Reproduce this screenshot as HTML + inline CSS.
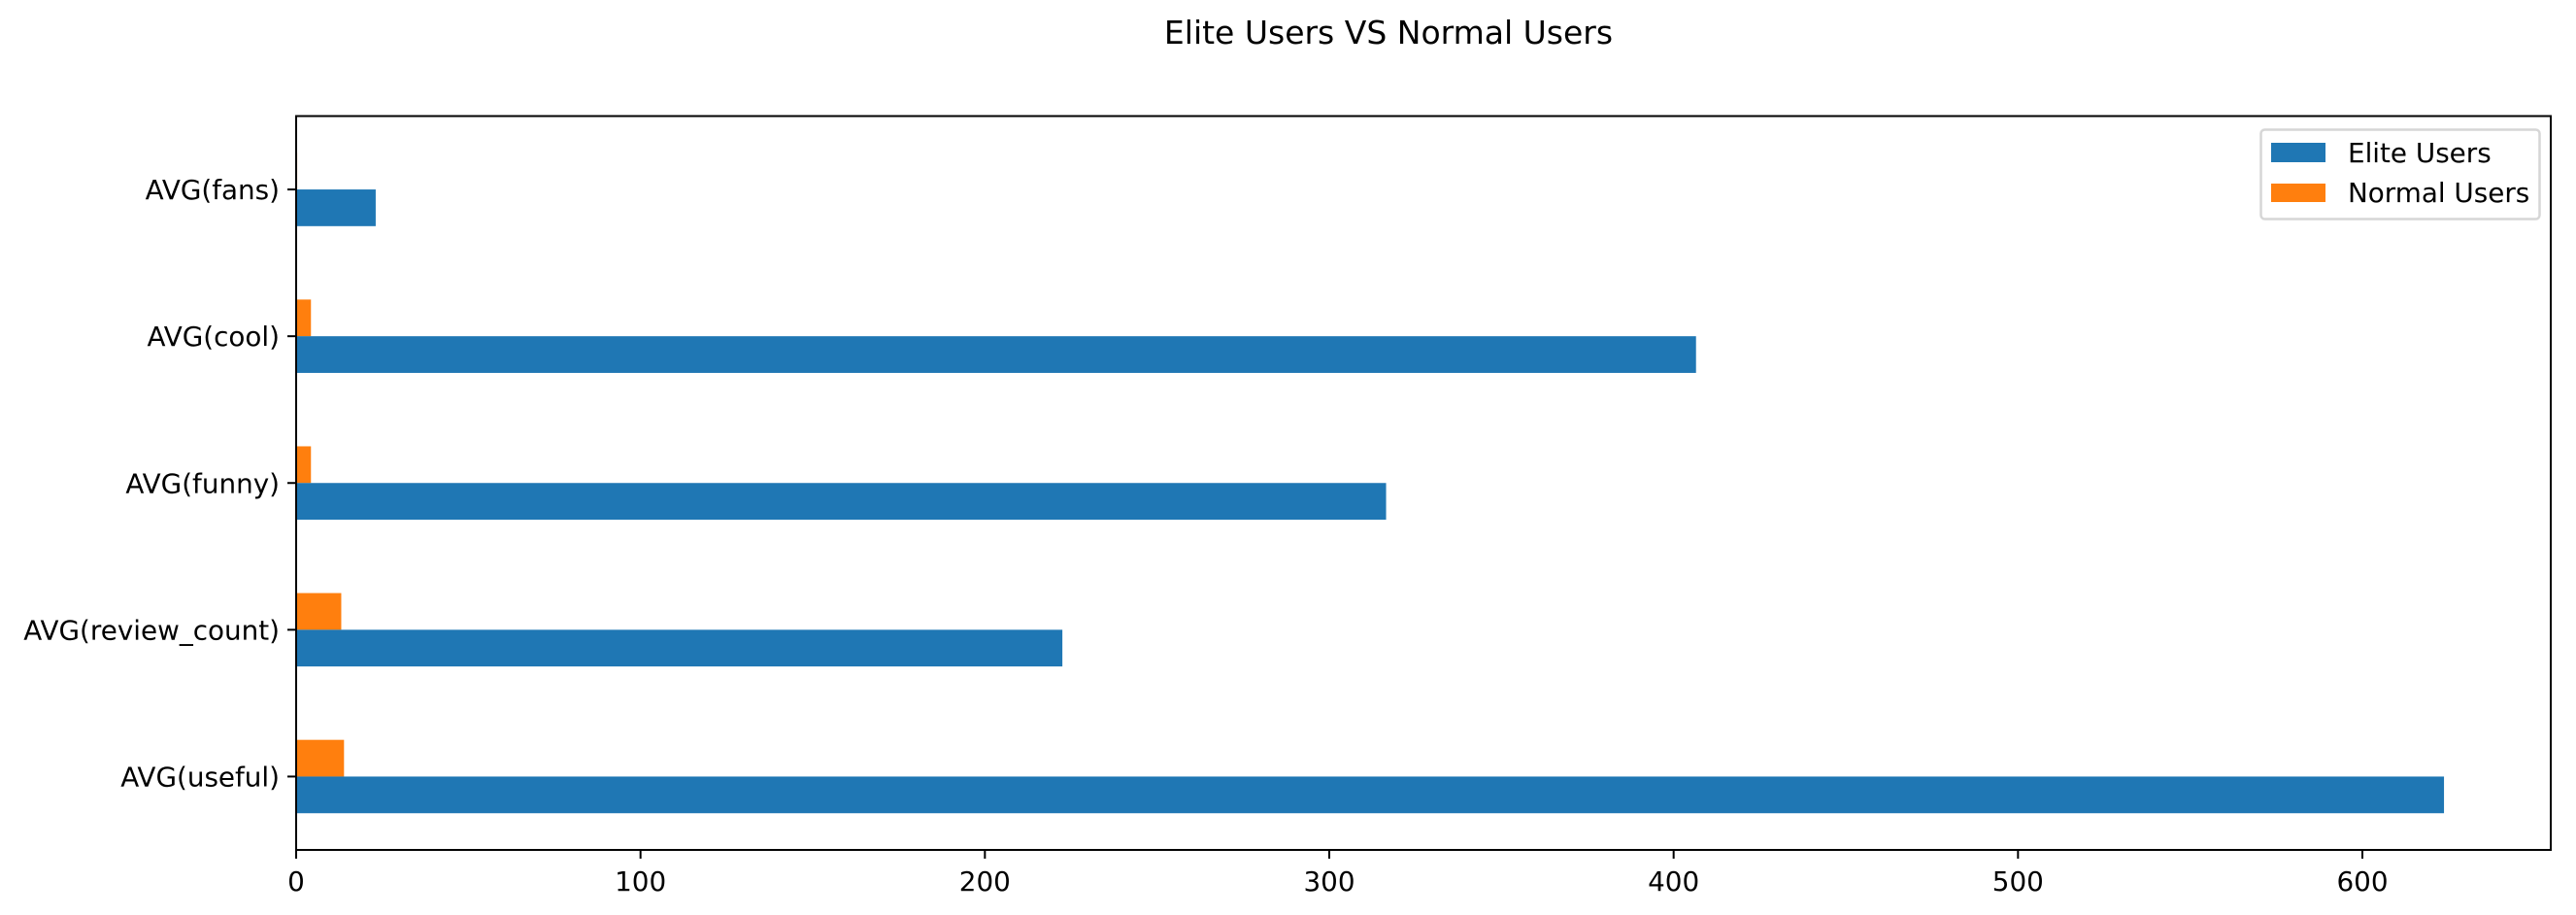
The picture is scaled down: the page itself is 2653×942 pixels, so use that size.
<!DOCTYPE html>
<html><head><meta charset="utf-8"><style>
html,body{margin:0;padding:0;background:#fff;}
svg{display:block;font-family:"DejaVu Sans","Liberation Sans",sans-serif;}
</style></head><body>
<svg id="chart" width="2653" height="942" viewBox="0 0 2653 942" xmlns="http://www.w3.org/2000/svg">
<rect width="2653" height="942" fill="#fff"/>
<text x="1430" y="45" font-size="33" text-anchor="middle" fill="#000">Elite Users VS Normal Users</text>
<g id="bars"></g>
<g id="axes"></g>
<g>
<rect x="2328.5" y="133.5" width="287" height="92" rx="4" fill="#fff" fill-opacity="0.8" stroke="#d6d6d6" stroke-width="2.5"/>
<rect x="2339" y="147" width="56" height="20" fill="#1f77b4"/>
<text x="2418" y="167" font-size="27.8" fill="#000">Elite Users</text>
<rect x="2339" y="189" width="56" height="19" fill="#ff7f0e"/>
<text x="2418" y="208" font-size="27.8" fill="#000">Normal Users</text>
</g>
</svg>
<script>
const categories = ["AVG(useful)", "AVG(review_count)", "AVG(funny)", "AVG(cool)", "AVG(fans)"];
const eliteValues = [623.7, 222.5, 316.5, 406.5, 23.1];
const normalValues = [13.9, 13.1, 4.3, 4.3, 0.3];
const xTicks = [0, 100, 200, 300, 400, 500, 600];
const xTickLabels = ["0", "100", "200", "300", "400", "500", "600"];

const L = 305, R = 2627, T = 119.5, B = 875;
const XMAX = 654.7;
const NS = "http://www.w3.org/2000/svg";
function xs(v) { return L + v / XMAX * (R - L); }
function ys(i) { return B - (i + 0.5) / categories.length * (B - T); }
const unit = (B - T) / categories.length;
const barH = unit * 0.25;
function mk(tag, attrs, parent) {
  const e = document.createElementNS(NS, tag);
  for (const k in attrs) e.setAttribute(k, attrs[k]);
  parent.appendChild(e);
  return e;
}
const bars = document.getElementById('bars');
const axes = document.getElementById('axes');
categories.forEach((c, i) => {
  const cy = ys(i);
  const n = mk('rect', {x: xs(0), y: cy - barH, width: xs(normalValues[i]) - xs(0), height: barH, fill: '#ff7f0e'}, bars);
  
  
  const e = mk('rect', {x: xs(0), y: cy, width: xs(eliteValues[i]) - xs(0), height: barH, fill: '#1f77b4'}, bars);
  
  
  const t = mk('line', {x1: L - 9, x2: L, y1: cy, y2: cy, stroke: '#000', 'stroke-width': 2}, axes);
  
  
  const lb = mk('text', {x: L - 17, y: cy + 10, 'font-size': 27.8, 'text-anchor': 'end', fill: '#000'}, axes);
  lb.textContent = c;
  
  
});
xTicks.forEach((v, i) => {
  const t = mk('line', {x1: xs(v), x2: xs(v), y1: B, y2: B + 9, stroke: '#000', 'stroke-width': 2}, axes);
  
  
  const lb = mk('text', {x: xs(v), y: B + 42, 'font-size': 27.8, 'text-anchor': 'middle', fill: '#000'}, axes);
  lb.textContent = xTickLabels[i];
  
  
});
const frame = mk('rect', {x: L, y: T, width: R - L, height: B - T, fill: 'none', stroke: '#000', 'stroke-width': 2}, axes);


</script>
</body></html>
